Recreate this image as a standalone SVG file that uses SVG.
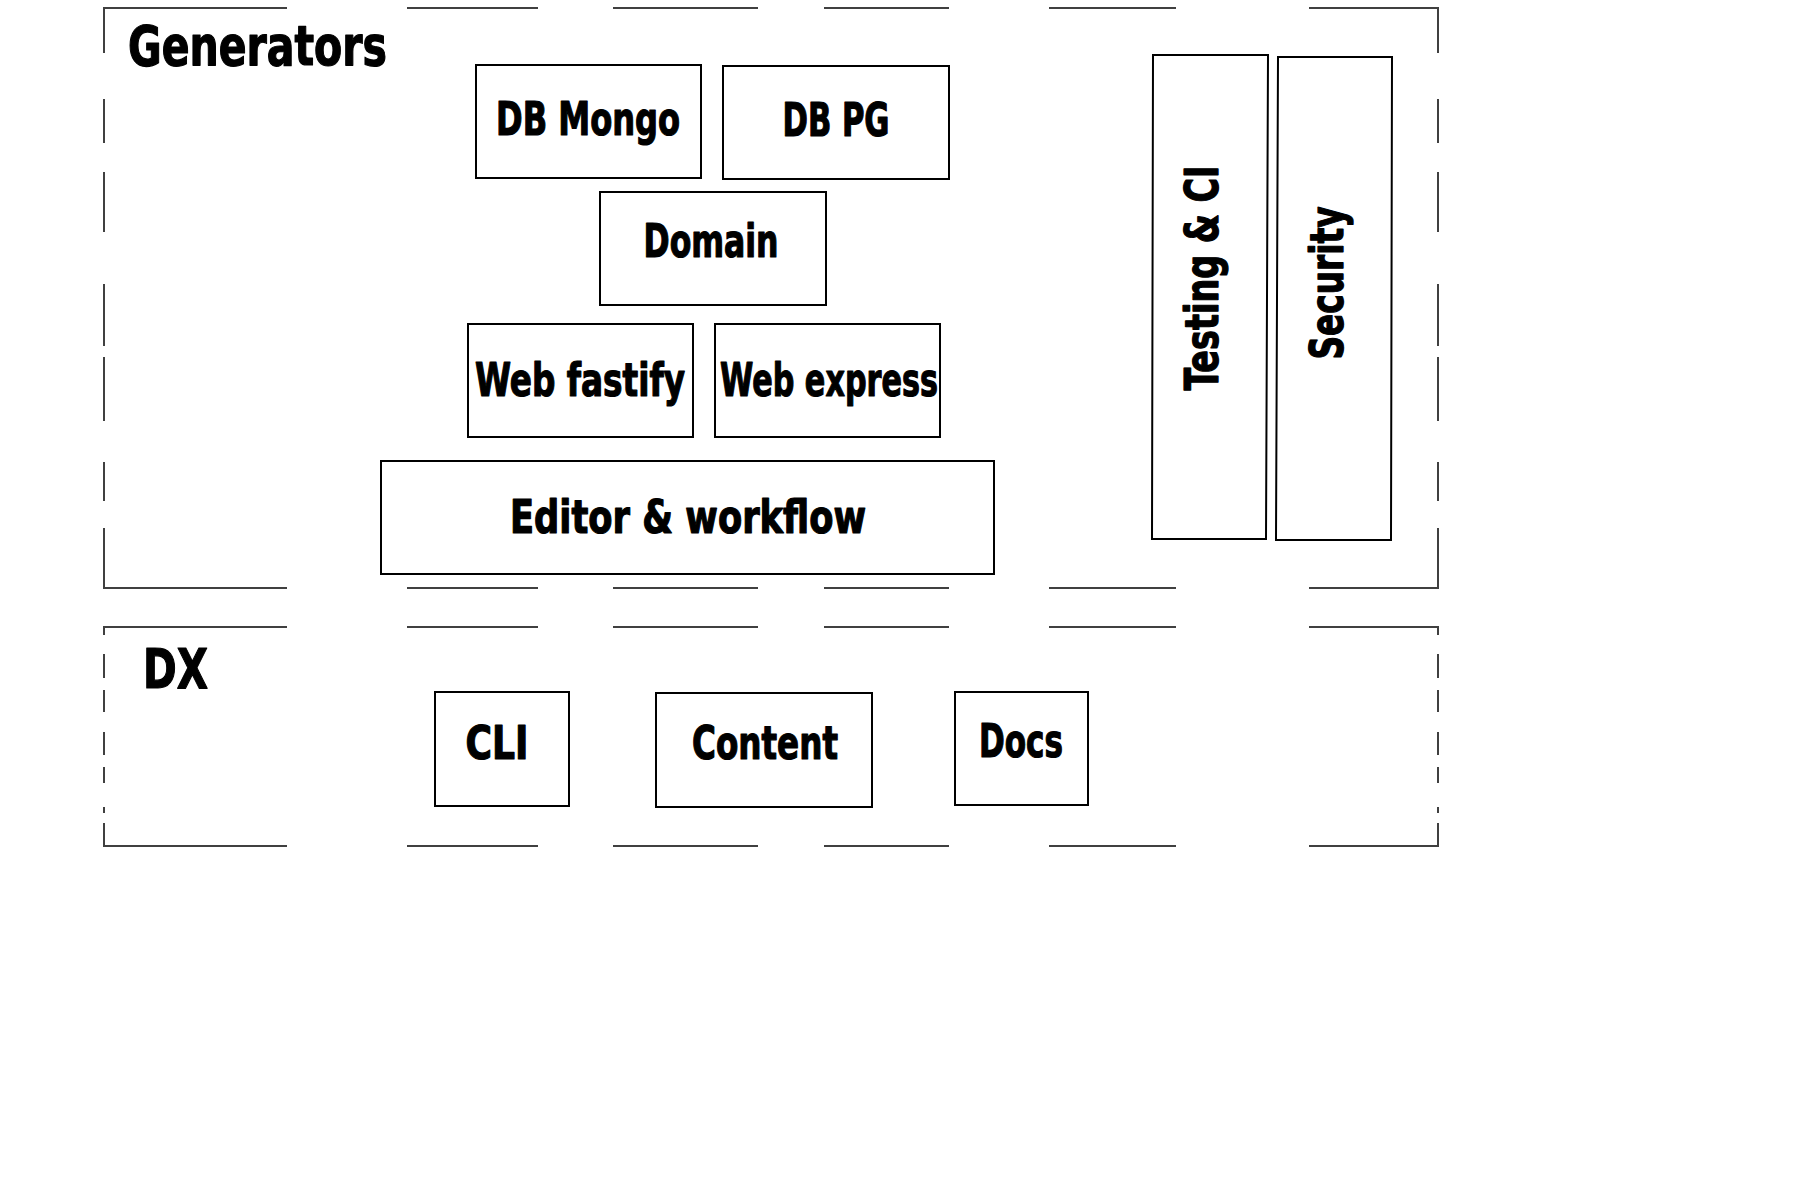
<svg xmlns="http://www.w3.org/2000/svg" width="1800" height="1200" viewBox="0 0 1800 1200">
<style>
.frame{fill:none;stroke:#404040;stroke-width:2;stroke-linecap:butt}
.box{fill:#ffffff;stroke:#000000;stroke-width:2}
.lbl{font-family:"DejaVu Sans Condensed","DejaVu Sans","Liberation Sans",sans-serif;font-stretch:condensed;font-weight:bold;font-size:47px;fill:#000000;stroke:#000000;stroke-width:1.2;stroke-linejoin:round}
.big{font-size:55px}
</style>
<rect x="0" y="0" width="1800" height="1200" fill="#ffffff"/>
<g id="generators">
<path class="frame" d="M104,53 V8 H287 M407,8 H538 M613,8 H758 M824,8 H949 M1049,8 H1176 M1309,8 H1438 V53 M1438,99 V143 M1438,172 V232 M1438,284 V346 M1438,357 V421 M1438,462 V501 M1438,528 V588 H1309 M1176,588 H1049 M949,588 H824 M758,588 H613 M538,588 H407 M287,588 H104 V528 M104,501 V462 M104,421 V357 M104,346 V284 M104,232 V172 M104,143 V99"/>
<text class="lbl big" x="128" y="65" textLength="259" lengthAdjust="spacingAndGlyphs">Generators</text>
</g>
<g id="dx">
<path class="frame" d="M104,635 V627 H287 M407,627 H538 M613,627 H758 M824,627 H949 M1049,627 H1176 M1309,627 H1438 V635 M1438,654 V678 M1438,690 V712 M1438,732 V755 M1438,767 V783 M1438,807 V813 M1438,823 V846 H1309 M1176,846 H1049 M949,846 H824 M758,846 H613 M538,846 H407 M287,846 H104 V823 M104,813 V807 M104,783 V767 M104,755 V732 M104,712 V690 M104,678 V654"/>
<text class="lbl big" x="143" y="688" textLength="65" lengthAdjust="spacingAndGlyphs">DX</text>
</g>
<g id="db-mongo">
<rect class="box" x="476" y="65" width="225" height="113"/>
<text class="lbl" x="588" y="135" text-anchor="middle" textLength="184" lengthAdjust="spacingAndGlyphs">DB Mongo</text>
</g>
<g id="db-pg">
<rect class="box" x="723" y="66" width="226" height="113"/>
<text class="lbl" x="836" y="136" text-anchor="middle" textLength="107" lengthAdjust="spacingAndGlyphs">DB PG</text>
</g>
<g id="domain">
<rect class="box" x="600" y="192" width="226" height="113"/>
<text class="lbl" x="711" y="257" text-anchor="middle" textLength="135" lengthAdjust="spacingAndGlyphs">Domain</text>
</g>
<g id="web-fastify">
<rect class="box" x="468" y="324" width="225" height="113"/>
<text class="lbl" x="580" y="396" text-anchor="middle" textLength="210" lengthAdjust="spacingAndGlyphs">Web fastify</text>
</g>
<g id="web-express">
<rect class="box" x="715" y="324" width="225" height="113"/>
<text class="lbl" x="829" y="396" text-anchor="middle" textLength="218" lengthAdjust="spacingAndGlyphs">Web express</text>
</g>
<g id="editor-workflow">
<rect class="box" x="381" y="461" width="613" height="113"/>
<text class="lbl" x="688" y="533" text-anchor="middle" textLength="356" lengthAdjust="spacingAndGlyphs">Editor &amp; workflow</text>
</g>
<g id="testing-ci">
<path class="box" d="M1153,55 L1268,55 L1266,539 L1152,539 Z"/>
<text class="lbl" transform="translate(1218,278) rotate(-90)" x="0" y="0" text-anchor="middle" textLength="225" lengthAdjust="spacingAndGlyphs">Testing &amp; CI</text>
</g>
<g id="security">
<path class="box" d="M1278,57 L1392,57 L1391,540 L1276,540 Z"/>
<text class="lbl" transform="translate(1343,283) rotate(-90)" x="0" y="0" text-anchor="middle" textLength="153" lengthAdjust="spacingAndGlyphs">Security</text>
</g>
<g id="cli">
<rect class="box" x="435" y="692" width="134" height="114"/>
<text class="lbl" x="497" y="759" text-anchor="middle" textLength="63" lengthAdjust="spacingAndGlyphs">CLI</text>
</g>
<g id="content">
<rect class="box" x="656" y="693" width="216" height="114"/>
<text class="lbl" x="765" y="759" text-anchor="middle" textLength="146" lengthAdjust="spacingAndGlyphs">Content</text>
</g>
<g id="docs">
<rect class="box" x="955" y="692" width="133" height="113"/>
<text class="lbl" x="1021" y="757" text-anchor="middle" textLength="84" lengthAdjust="spacingAndGlyphs">Docs</text>
</g>
<g id="connectors"></g>
</svg>
